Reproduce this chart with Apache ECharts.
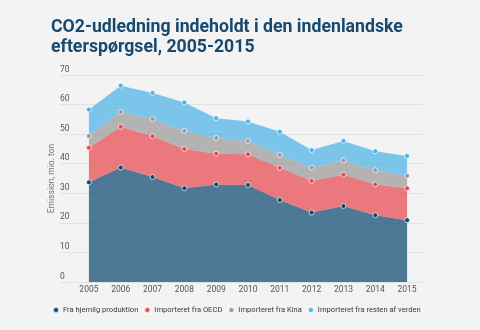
<!DOCTYPE html>
<html>
<head>
<meta charset="utf-8">
<script src="https://cdn.jsdelivr.net/npm/echarts@6/dist/echarts.min.js"></script>
<style>
  html, body { margin: 0; padding: 0; background: #f3f3f3; }
  #chart { width: 480px; height: 330px; }
</style>
</head>
<body>
<div id="chart"></div>
<script>
// Years on the x axis
var years = ['2005', '2006', '2007', '2008', '2009', '2010', '2011', '2012', '2013', '2014', '2015'];

// Emissions, mio. ton, stacked in this order
var hjemlig = [33.7, 38.7, 35.5, 31.7, 33.0, 32.8, 27.7, 23.5, 25.7, 22.6, 20.9];
var oecd    = [11.7, 13.8, 13.8, 13.3, 10.4, 10.4, 10.9, 10.7, 10.6, 10.4, 10.8];
var kina    = [4.0, 5.0, 5.8, 6.1, 5.3, 4.5, 4.4, 4.5, 4.8, 4.8, 4.2];
var resten  = [8.9, 8.9, 8.8, 9.6, 6.7, 6.6, 7.8, 5.9, 6.6, 6.4, 6.7];

var seriesNames = ['Fra hjemlig produktion', 'Importeret fra OECD', 'Importeret fra Kina', 'Importeret fra resten af verden'];
var seriesColors = ['#0d4a73', '#e8484f', '#9a9a9a', '#4cb3e8'];
var seriesData = [hjemlig, oecd, kina, resten];

var chart = echarts.init(document.getElementById('chart'), null, { renderer: 'canvas' });

var series = seriesData.map(function (d, i) {
  return {
    name: seriesNames[i],
    type: 'line',
    stack: 'total',
    xAxisIndex: 0,
    yAxisIndex: 0,
    data: d,
    symbol: 'circle',
    symbolSize: 5,
    showAllSymbol: true,
    itemStyle: { color: seriesColors[i], borderColor: 'rgba(255,255,255,0.7)', borderWidth: 1 },
    lineStyle: { width: 0 },
    areaStyle: { color: seriesColors[i], opacity: 0.72 },
    emphasis: { disabled: true },
    z: 3
  };
});

chart.setOption({
  backgroundColor: '#f3f3f3',
  animation: false,
  textStyle: { fontFamily: 'Roboto' },
  title: {
    text: 'CO2-udledning indeholdt i den indenlandske\nefterspørgsel, 2005-2015',
    left: 46,
    top: 13,
    textStyle: {
      fontFamily: 'Roboto',
      fontWeight: 'bold',
      fontSize: 17.7,
      lineHeight: 20,
      color: '#17496f'
    }
  },
  legend: {
    data: seriesNames,
    left: 47,
    top: 301,
    icon: 'circle',
    itemWidth: 6,
    itemHeight: 6,
    itemGap: 5,
    textStyle: { fontSize: 7.6, color: '#3a3a3a', padding: [0, 0, 0, -1] }
  },
  grid: [
    // plot area for the stacked series
    { left: 73, right: 57, top: 75, bottom: 48 },
    // wider band carrying the gridlines and value labels
    { left: 60, right: 57, top: 75, bottom: 48 }
  ],
  xAxis: [
    {
      type: 'category',
      gridIndex: 0,
      data: years,
      boundaryGap: true,
      axisLine: { show: false },
      axisTick: { show: false },
      axisLabel: { fontSize: 8.5, color: '#555', margin: 3 }
    },
    {
      type: 'value',
      gridIndex: 1,
      show: false
    }
  ],
  yAxis: [
    {
      type: 'value',
      gridIndex: 0,
      min: 0,
      max: 70,
      interval: 10,
      show: false
    },
    {
      type: 'value',
      gridIndex: 1,
      min: 0,
      max: 70,
      interval: 10,
      name: 'Emission, mio. ton',
      nameLocation: 'middle',
      nameGap: 4,
      nameMoveOverlap: false,
      nameTextStyle: { fontSize: 8.5, color: '#777', verticalAlign: 'bottom' },
      axisLine: { show: false },
      axisTick: { show: false },
      splitLine: { lineStyle: { color: '#e2e2e2', width: 1 } },
      axisLabel: {
        inside: true,
        fontSize: 8.5,
        color: '#555',
        align: 'left',
        verticalAlign: 'bottom',
        margin: 0,
        padding: [0, 0, 1, 0]
      },
      z: 0
    }
  ],
  series: series
});
</script>
</body>
</html>
